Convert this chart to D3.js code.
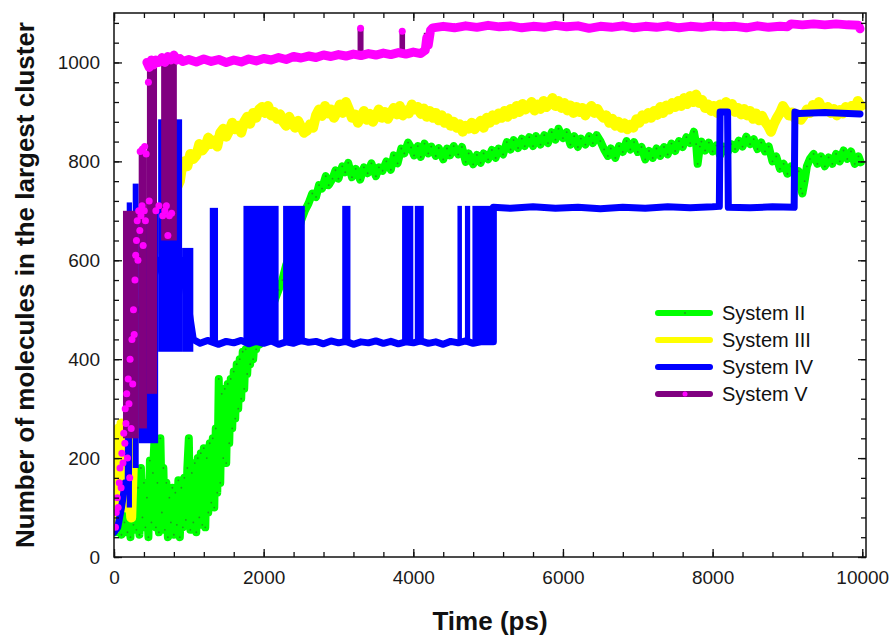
<!DOCTYPE html>
<html>
<head>
<meta charset="utf-8">
<script src="https://cdn.jsdelivr.net/npm/d3@7"></script>
<style>
  body { margin: 0; background: #fff; }
  text { font-family: "Liberation Sans", Arial, sans-serif; }
</style>
</head>
<body>
<div id="chart-area"></div>
<script>
// data: [time (ps), molecules]
var xTicks = [0, 2000, 4000, 6000, 8000, 10000];
var yTicks = [0, 200, 400, 600, 800, 1000];
var legendNames = ["System II", "System III", "System IV", "System V"];

var sys2 = [[0,165],[20,50],[40,140],[60,60],[80,120],[100,45],[120,175],[140,70],[160,150],[180,50],[200,130],[220,40],
  [240,185],[260,65],[280,160],[300,55],[320,140],[340,45],[360,180],[380,80],[400,150],[420,60],[440,120],[460,40],
  [480,195],[500,70],[520,170],[540,235],[560,60],[580,150],[600,50],[620,240],[640,90],[660,180],[680,55],[700,150],
  [720,40],[740,120],[760,70],[780,140],[800,45],[820,130],[840,65],[860,155],[880,40],[900,140],[920,60],[940,160],
  [960,75],[980,180],[1000,240],[1020,55],[1040,170],[1060,70],[1080,190],[1100,50],[1120,200],[1140,80],[1160,210],
  [1180,65],[1200,220],[1220,60],[1240,200],[1260,90],[1280,230],[1300,110],[1320,240],
  [1340,100],[1360,260],[1380,130],[1400,360],[1420,150],[1440,330],[1460,200],[1480,340],[1500,190],[1520,350],[1540,230],
  [1560,360],[1580,260],[1600,375],[1620,280],[1640,390],[1660,300],[1680,400],[1700,320],[1720,415],[1740,340],[1760,420],
  [1780,370],[1800,430],[1820,390],[1840,435],[1860,400],[1880,440],[1900,420],[1920,445],[1950,430],[2000,450],
  [2050,480],[2100,500],[2150,520],[2200,540],[2250,560],[2300,590],[2350,610],[2400,630],[2450,650],[2500,680],[2550,700],
  [2600,715],[2650,735],[2700,728],[2740,752],[2780,745],[2830,770],[2870,752],[2920,765],[2960,782],[3000,765],[3050,790],
  [3090,778],[3130,797],[3180,768],[3230,785],[3290,763],[3340,788],[3390,776],[3440,796],[3500,770],[3540,788],[3590,781],
  [3640,800],[3700,783],[3740,812],[3790,796],[3840,826],[3880,816],[3930,838],[3970,828],[4010,812],[4060,831],[4100,809],
  [4150,836],[4200,816],[4240,830],[4300,811],[4340,827],[4400,804],[4450,826],[4490,812],[4540,831],[4600,814],[4650,829],
  [4700,799],[4740,816],[4800,794],[4850,813],[4900,797],[4940,816],[5000,804],[5050,823],[5100,807],[5140,826],[5200,814],
  [5250,839],[5300,824],[5340,843],[5400,827],[5450,846],[5490,831],[5550,849],[5600,831],[5640,851],[5700,834],[5750,853],
  [5800,837],[5850,859],[5900,844],[5940,866],[6000,847],[6050,859],[6100,834],[6150,851],[6200,829],[6240,846],[6300,834],
  [6350,851],[6400,837],[6450,853],[6500,841],[6550,824],[6600,811],[6640,826],[6700,807],[6750,831],[6800,819],[6850,841],
  [6900,824],[6950,839],[7000,819],[7050,829],[7100,804],[7150,821],[7200,807],[7250,826],[7300,811],[7350,829],[7400,814],
  [7450,836],[7500,821],[7550,841],[7600,829],[7650,849],[7700,837],[7750,860],[7780,835],[7800,795],[7830,830],[7850,840],
  [7900,822],[7950,838],[8000,820],[8050,832],[8100,812],[8150,830],[8200,818],[8250,835],[8300,825],[8350,842],[8400,830],
  [8450,850],[8500,835],[8550,845],[8600,825],[8650,838],[8700,820],[8750,830],[8800,800],[8850,810],[8900,785],[8950,795],
  [9000,775],[9050,790],[9100,770],[9150,780],[9180,745],[9200,735],[9230,760],[9260,790],[9300,805],[9350,815],[9400,795],
  [9450,810],[9500,790],[9550,808],[9600,795],[9650,815],[9700,800],[9750,822],[9800,805],[9850,820],[9900,795],[9950,810],
  [9980,798]];

var sys3 = [[0,60],[20,150],[40,90],[60,260],[80,120],[100,270],[130,200],[160,100],[200,150],[230,80],[250,180],
  [300,450],[500,600],[700,700],[880,760],[900,780],[940,800],[980,790],[1020,815],[1060,805],[1100,812],[1140,835],
  [1180,822],[1220,830],[1260,848],[1300,835],[1340,842],[1380,830],[1420,858],[1460,866],[1500,850],[1540,862],[1580,878],
  [1620,865],[1660,872],[1700,858],[1740,880],[1780,890],[1820,876],[1860,898],[1900,888],[1940,905],[1980,910],[2020,898],
  [2060,912],[2100,893],[2140,900],[2180,886],[2220,895],[2260,880],[2300,872],[2340,890],[2380,878],[2420,868],[2460,882],
  [2500,870],[2540,858],[2580,862],[2620,875],[2660,868],[2700,893],[2740,905],[2780,892],[2820,912],[2860,897],[2900,905],
  [2940,888],[2980,900],[3020,915],[3060,898],[3100,920],[3140,905],[3180,888],[3220,895],[3260,878],[3300,890],[3340,902],
  [3380,884],[3420,896],[3460,880],[3500,892],[3540,905],[3580,888],[3620,900],[3660,886],[3700,898],[3740,908],[3780,895],
  [3820,912],[3860,893],[3900,903],[3940,897],[3980,915],[4020,905],[4060,910],[4100,896],[4140,907],[4180,890],[4220,902],
  [4260,888],[4300,898],[4340,883],[4380,893],[4420,878],[4460,887],[4500,872],[4540,880],[4580,868],[4620,875],[4660,860],
  [4700,872],[4740,866],[4780,878],[4820,865],[4860,874],[4900,882],[4940,868],[4980,888],[5020,878],[5060,893],[5100,884],
  [5140,897],[5180,888],[5220,902],[5260,890],[5300,906],[5340,896],[5380,912],[5420,900],[5460,916],[5500,905],[5540,912],
  [5580,920],[5620,903],[5660,915],[5700,906],[5740,922],[5780,910],[5820,918],[5860,928],[5900,912],[5940,922],[5980,908],
  [6020,918],[6060,903],[6100,913],[6140,898],[6180,910],[6220,900],[6260,908],[6300,893],[6340,905],[6380,912],[6420,898],
  [6460,906],[6500,895],[6540,888],[6580,893],[6620,878],[6660,886],[6700,872],[6740,880],[6780,868],[6820,877],[6860,865],
  [6900,874],[6940,868],[6980,885],[7020,878],[7060,893],[7100,886],[7140,898],[7180,888],[7220,902],[7260,894],[7300,910],
  [7340,898],[7380,913],[7420,905],[7460,918],[7500,910],[7540,922],[7580,912],[7620,928],[7660,916],[7700,932],[7740,920],
  [7780,935],[7820,918],[7860,924],[7900,908],[7940,915],[7980,902],[8020,912],[8060,898],[8100,915],[8140,905],[8180,920],
  [8220,906],[8260,916],[8300,900],[8340,908],[8380,895],[8420,906],[8460,893],[8500,902],[8540,886],[8580,897],[8620,883],
  [8660,892],[8700,880],[8740,872],[8780,860],[8820,876],[8860,888],[8900,898],[8940,912],[8980,902],[9020,893],[9060,899],
  [9100,887],[9140,895],[9180,884],[9220,893],[9260,905],[9300,898],[9340,914],[9380,905],[9420,920],[9460,908],[9500,903],
  [9540,910],[9580,898],[9620,906],[9660,893],[9700,904],[9740,897],[9780,910],[9820,902],[9860,912],[9900,906],[9940,922],
  [9980,912]];

var sys4 = [[0,50],[50,60],[100,100],[150,150],[190,150],[200,500],[300,500],[400,500],[600,600],[900,600],[1000,500],
  [1060,440],[1150,432],[1250,438],[1400,430],[1500,436],[1600,433],[1700,438],[1800,431],[1900,436],[2000,432],[2100,437],
  [2200,430],[2300,435],[2400,432],[2500,438],[2600,434],[2700,436],[2800,431],[2900,437],[3000,433],[3100,436],[3200,430],
  [3300,435],[3400,433],[3500,437],[3600,432],[3700,436],[3800,431],[3900,435],[4000,433],[4100,437],[4200,432],[4300,435],
  [4400,430],[4500,436],[4600,433],[4700,437],[4800,432],[4900,435],[5070,435],
  [5070,707],[5300,705],[5600,708],[5900,705],[6200,707],[6500,704],[6800,707],[7100,705],[7400,708],[7700,706],[8000,708],
  [8090,709],[8100,900],[8200,900],[8210,707],[8500,706],[8800,708],[9090,707],[9100,900],[9150,897],[9500,899],[9970,896]];

// dense switching windows: [t start, t end, low, high]
var sys4Bands = [[170,240,100,717],[250,330,180,755],[330,590,230,700],[590,910,415,885],[910,1060,415,625],
  [1280,1390,430,706],[1730,2200,430,710],[2260,2550,430,710],[3050,3160,430,710],[3850,4000,430,710],
  [4020,4140,430,710],[4590,4650,430,710],[4690,4760,430,710],[4790,5070,430,710]];

var sys5 = [[440,1000],[470,990],[500,1005],[530,995],[560,1005],[600,1000],[640,1010],[680,1000],[720,1012],[760,1005],
  [800,1015],[840,1005],[880,1008],[920,1002],[1000,1006],[1100,1001],[1200,1007],[1300,1002],[1400,1006],[1500,1000],
  [1600,1005],[1700,1001],[1800,1007],[1900,1003],[2000,1008],[2100,1005],[2200,1010],[2300,1006],[2400,1012],[2500,1009],
  [2600,1013],[2700,1010],[2800,1015],[2900,1012],[3000,1016],[3100,1013],[3200,1017],[3300,1014],[3400,1018],[3500,1015],
  [3600,1019],[3700,1016],[3800,1020],[3900,1017],[4000,1021],[4100,1018],[4160,1025],[4180,1050],[4200,1035],[4230,1065],
  [4260,1070],[4400,1073],[4550,1070],[4700,1074],[4850,1071],[5000,1075],[5150,1072],[5300,1074],[5450,1070],[5600,1073],
  [5750,1071],[5900,1075],[6050,1072],[6200,1074],[6350,1069],[6500,1073],[6650,1071],[6800,1074],[6950,1070],[7100,1073],
  [7250,1071],[7400,1074],[7550,1070],[7700,1073],[7850,1071],[8000,1074],[8150,1072],[8300,1073],[8450,1070],[8600,1074],
  [8750,1071],[8900,1073],[9000,1072],[9050,1078],[9200,1076],[9350,1078],[9500,1076],[9650,1078],[9800,1076],[9950,1075],
  [9970,1068]];

var sys5Bands = [[120,330,240,700],[330,440,260,822],[440,575,330,1000],[630,840,640,1000],
  [3255,3335,1012,1069],[3815,3890,1018,1063],[4140,4185,1020,1060]];

var sys5Dots = [[20,60],[30,90],[45,120],[55,100],[70,150],[80,180],[95,140],[105,210],[120,190],[130,250],[145,230],
  [150,300],[160,270],[170,330],[180,200],[190,360],[200,310],[210,160],[215,400],[230,260],[240,440],[250,350],[260,500],
  [270,450],[280,560],[290,610],[300,640],[310,680],[320,600],[330,700],[345,660],[360,690],[375,710],[390,630],[405,700],
  [420,680],[350,820],[380,825],[410,830],[430,815],[460,960],[470,720],[560,700],[600,710],[650,690],[680,700],[700,710],
  [740,690],[770,695],[720,650],[3295,1069],[3852,1063]];

var W = 892, H = 641;
var margin = {top: 13, right: 26, bottom: 84, left: 114};
var width = W - margin.left - margin.right;
var height = H - margin.top - margin.bottom;

var svg = d3.select("#chart-area")
  .append("svg")
  .attr("width", W)
  .attr("height", H);

var g = svg.append("g")
  .attr("transform", "translate(" + margin.left + ", " + margin.top + ")");

var x = d3.scaleLinear().domain([0, 10050]).range([0, width]);
var y = d3.scaleLinear().domain([0, 1100]).range([height, 0]);

var colors = {green: "#00ff00", yellow: "#ffff00", blue: "#0000ff", purple: "#800080", magenta: "#ff00ff"};

g.append("clipPath").attr("id", "clip")
  .append("rect").attr("width", width).attr("height", height);

var plot = g.append("g").attr("clip-path", "url(#clip)");

var line = d3.line()
  .x((d) => { return x(d[0]); })
  .y((d) => { return y(d[1]); });

// System II
plot.append("path")
  .datum(sys2)
  .attr("d", line)
  .attr("fill", "none")
  .attr("stroke", colors.green)
  .attr("stroke-width", 8)
  .attr("stroke-linejoin", "round")
  .attr("stroke-linecap", "round");

plot.selectAll(".gdot").data(sys2).enter()
  .append("circle")
  .attr("class", "gdot")
  .attr("cx", (d) => { return x(d[0]); })
  .attr("cy", (d) => { return y(d[1]); })
  .attr("r", 0.9)
  .attr("fill", "#1f9a1f");

// System III
plot.append("path")
  .datum(sys3)
  .attr("d", line)
  .attr("fill", "none")
  .attr("stroke", colors.yellow)
  .attr("stroke-width", 10)
  .attr("stroke-linejoin", "round")
  .attr("stroke-linecap", "square");

// System IV
plot.selectAll(".bband").data(sys4Bands).enter()
  .append("rect")
  .attr("class", "bband")
  .attr("x", (d) => { return x(d[0]); })
  .attr("width", (d) => { return x(d[1]) - x(d[0]); })
  .attr("y", (d) => { return y(d[3]); })
  .attr("height", (d) => { return y(d[2]) - y(d[3]); })
  .attr("fill", colors.blue);

plot.append("path")
  .datum(sys4)
  .attr("d", line)
  .attr("fill", "none")
  .attr("stroke", colors.blue)
  .attr("stroke-width", 7)
  .attr("stroke-linejoin", "round")
  .attr("stroke-linecap", "round");

// System V
plot.selectAll(".pband").data(sys5Bands).enter()
  .append("rect")
  .attr("class", "pband")
  .attr("x", (d) => { return x(d[0]); })
  .attr("width", (d) => { return x(d[1]) - x(d[0]); })
  .attr("y", (d) => { return y(d[3]); })
  .attr("height", (d) => { return y(d[2]) - y(d[3]); })
  .attr("fill", colors.purple);

plot.append("path")
  .datum(sys5)
  .attr("d", line)
  .attr("fill", "none")
  .attr("stroke", colors.magenta)
  .attr("stroke-width", 9)
  .attr("stroke-linejoin", "round")
  .attr("stroke-linecap", "round");

plot.selectAll(".mdot").data(sys5Dots).enter()
  .append("circle")
  .attr("class", "mdot")
  .attr("cx", (d) => { return x(d[0]); })
  .attr("cy", (d) => { return y(d[1]); })
  .attr("r", 3.5)
  .attr("fill", colors.magenta);

// axes, ticks pointing inwards on all four sides
var xMinor = d3.range(0, 10001, 400);
var yMinor = d3.range(0, 1081, 40);

function styleAxis(sel) {
  sel.select(".domain").remove();
  sel.selectAll("line").attr("stroke", "#111").attr("stroke-width", 1.3);
  sel.selectAll("text").attr("font-size", "19px").attr("fill", "#1a1a1a");
}

g.append("g").attr("transform", "translate(0," + height + ")")
  .call(d3.axisBottom(x).tickValues(xMinor).tickSize(-5).tickFormat(""))
  .call(styleAxis);
g.append("g").attr("transform", "translate(0," + height + ")")
  .call(d3.axisBottom(x).tickValues(xTicks).tickSize(-8).tickPadding(14).tickFormat(d3.format("d")))
  .call(styleAxis);
g.append("g")
  .call(d3.axisTop(x).tickValues(xMinor).tickSize(-5).tickFormat(""))
  .call(styleAxis);
g.append("g")
  .call(d3.axisTop(x).tickValues(xTicks).tickSize(-8).tickFormat(""))
  .call(styleAxis);

g.append("g")
  .call(d3.axisLeft(y).tickValues(yMinor).tickSize(-5).tickFormat(""))
  .call(styleAxis);
g.append("g")
  .call(d3.axisLeft(y).tickValues(yTicks).tickSize(-8).tickPadding(14).tickFormat(d3.format("d")))
  .call(styleAxis);
g.append("g").attr("transform", "translate(" + width + ",0)")
  .call(d3.axisRight(y).tickValues(yMinor).tickSize(-5).tickFormat(""))
  .call(styleAxis);
g.append("g").attr("transform", "translate(" + width + ",0)")
  .call(d3.axisRight(y).tickValues(yTicks).tickSize(-8).tickFormat(""))
  .call(styleAxis);

g.append("rect")
  .attr("width", width)
  .attr("height", height)
  .attr("fill", "none")
  .attr("stroke", "#111")
  .attr("stroke-width", 1.5);

// axis titles
g.append("text")
  .attr("x", width / 2)
  .attr("y", height + 73)
  .attr("font-size", "26px")
  .attr("font-weight", "bold")
  .attr("text-anchor", "middle")
  .attr("fill", "#111")
  .text("Time (ps)");

g.append("text")
  .attr("transform", "translate(" + (34 - margin.left) + "," + (height / 2) + ") rotate(-90)")
  .attr("font-size", "26px")
  .attr("font-weight", "bold")
  .attr("text-anchor", "middle")
  .attr("fill", "#111")
  .text("Number of molecules in the largest cluster");

// legend
var legendColors = [colors.green, colors.yellow, colors.blue, colors.purple];
var legend = g.append("g").attr("transform", "translate(" + (658 - margin.left) + "," + (313 - margin.top) + ")");
legendNames.forEach((name, i) => {
  var row = legend.append("g").attr("transform", "translate(0," + (i * 27) + ")");
  row.append("line")
    .attr("x1", 0).attr("x2", 52)
    .attr("stroke", legendColors[i])
    .attr("stroke-width", 6)
    .attr("stroke-linecap", "round");
  if (i == 0) {
    row.append("circle").attr("cx", 27).attr("r", 1).attr("fill", "#1f9a1f");
  }
  if (i == 3) {
    row.append("circle").attr("cx", 27).attr("r", 2.5).attr("fill", colors.magenta);
  }
  row.append("text")
    .attr("x", 64)
    .attr("y", 7)
    .attr("font-size", "20px")
    .attr("fill", "#111")
    .text(name);
});
</script>
</body>
</html>
